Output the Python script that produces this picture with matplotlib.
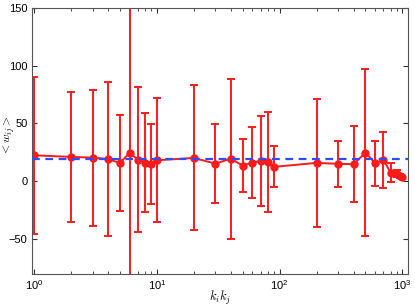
import matplotlib
matplotlib.use("Agg")
import matplotlib.pyplot as plt
import numpy as np

plt.rcParams['font.family'] = ['Liberation Sans', 'DejaVu Sans']
plt.rcParams['mathtext.fontset'] = 'cm'

kk = [1, 2, 3, 4, 5, 6, 7, 8, 9, 10, 20, 30, 40, 50, 60, 70, 80, 90,
      200, 300, 400, 500, 600, 700, 800, 900, 950, 1000]
w_mean = [22.4, 21.0, 20.4, 19.2, 15.8, 24.4, 18.7, 16.1, 15.2, 18.1, 20.1, 15.2, 19.5, 13.5,
          16.1, 17.5, 17.0, 12.4, 15.8, 15.0, 14.7, 24.7, 15.5, 18.5, 7.5, 6.6, 4.5, 3.5]
w_err = [68.1, 56.0, 59.0, 66.5, 41.4, 300.0, 63.0, 43.0, 34.6, 53.7, 62.8, 34.5, 69.2, 23.2,
         31.0, 39.0, 43.3, 17.7, 55.8, 20.1, 32.8, 72.1, 19.7, 24.5, 8.5, 3.0, 1.5, 1.0]
w_avg = 19.0

fig = plt.figure(figsize=(4.15, 3.08), dpi=100)
ax = fig.add_axes([0.078, 0.112, 0.904, 0.862])

ax.axhline(w_avg, color='#2a4dff', lw=1.6, ls=(0, (3.5, 2.5)), zorder=3)
ax.errorbar(kk, w_mean, yerr=w_err, color='#ff1a1a', lw=1.4, marker='o', ms=5,
            capsize=2.8, capthick=1.4, elinewidth=1.4, zorder=2)

ax.set_xscale('log')
ax.set_xlim(0.97, 1100)
ax.set_ylim(-80, 150)
ax.set_yticks([-50, 0, 50, 100, 150])
ax.tick_params(which='both', direction='in', top=True, right=True, labelsize=8,
               colors='#333333', labelcolor='black')
ax.tick_params(which='major', length=3.5)
ax.tick_params(which='minor', length=2)
for s in ax.spines.values():
    s.set_color('#555555')
    s.set_linewidth(0.8)

ax.set_xlabel(r'$k_ik_j$', fontsize=9)
ax.set_ylabel(r'$<w_{ij}>$', fontsize=8.5)
ax.xaxis.set_label_coords(0.5, -0.06)
ax.yaxis.set_label_coords(-0.042, 0.52)

fig.savefig('out.png', dpi=100)
